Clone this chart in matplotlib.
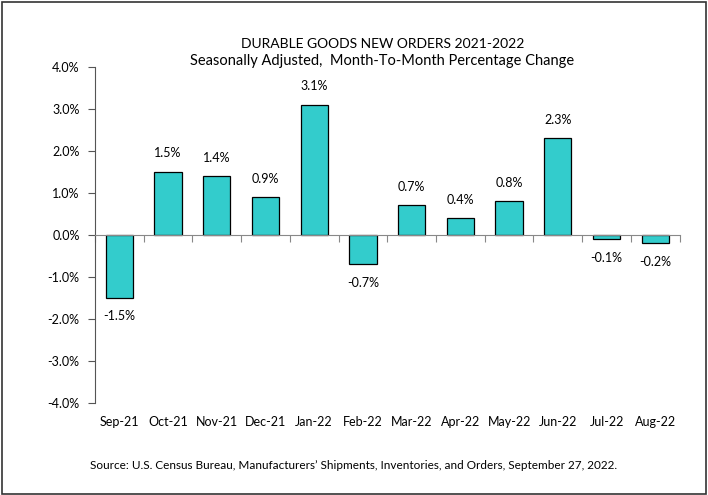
import numpy as np
import matplotlib.pyplot as plt
from matplotlib.patches import Rectangle

plt.rcParams['font.family'] = ['Lato', 'DejaVu Sans']

months = ['Sep-21', 'Oct-21', 'Nov-21', 'Dec-21', 'Jan-22', 'Feb-22',
          'Mar-22', 'Apr-22', 'May-22', 'Jun-22', 'Jul-22', 'Aug-22']
pct_change = [-1.5, 1.5, 1.4, 0.9, 3.1, -0.7, 0.7, 0.4, 0.8, 2.3, -0.1, -0.2]
y_ticks = [-4.0, -3.0, -2.0, -1.0, 0.0, 1.0, 2.0, 3.0, 4.0]

fig = plt.figure(figsize=(7.08, 4.95), dpi=100)
ax = fig.add_axes([0.134, 0.186, 0.826, 0.679])

x = np.arange(len(months))
ax.bar(x, pct_change, width=0.56, color='#33CCCC', edgecolor='black', linewidth=0.9, zorder=3)

for xi, v in zip(x, pct_change):
    if v >= 0:
        ax.annotate(f'{v:.1f}%', (xi, v), xytext=(0, 9), textcoords='offset points',
                    ha='center', va='bottom', fontsize=9)
    else:
        ax.annotate(f'{v:.1f}%', (xi, v), xytext=(0, -9), textcoords='offset points',
                    ha='center', va='top', fontsize=9)

ax.set_xlim(-0.5, len(months) - 0.5)
ax.set_ylim(-4, 4)
ax.set_yticks(y_ticks)
ax.set_yticklabels([f'{t:.1f}%' for t in y_ticks], fontsize=9)

ax.spines['top'].set_visible(False)
ax.spines['right'].set_visible(False)
ax.spines['left'].set_color('#555555')
ax.spines['bottom'].set_position(('data', 0))
ax.spines['bottom'].set_color('#888888')
ax.spines['bottom'].set_zorder(4)
ax.set_xticks(np.arange(-0.5, len(months) + 0.5, 1.0))
ax.set_xticklabels([])
ax.tick_params(axis='x', direction='out', length=5, color='#888888')
ax.tick_params(axis='y', direction='out', length=5, color='#555555', pad=6)

for xi, m in zip(x, months):
    ax.text(xi, -4.45, m, ha='center', va='center', fontsize=9, clip_on=False)

fig.text(0.54, 0.912, 'DURABLE GOODS NEW ORDERS 2021-2022', ha='center', va='center', fontsize=10)
fig.text(0.54, 0.877, 'Seasonally Adjusted,  Month-To-Month Percentage Change', ha='center', va='center', fontsize=10.5)
fig.text(0.5, 0.06, 'Source: U.S. Census Bureau, Manufacturers\u2019 Shipments, Inventories, and Orders, September 27, 2022.',
         ha='center', va='center', fontsize=8.5)

fig.patches.append(Rectangle((0.003, 0.003), 0.994, 0.992, transform=fig.transFigure,
                             fill=False, edgecolor='#333333', linewidth=1.2))

fig.savefig('out.png', dpi=100)
